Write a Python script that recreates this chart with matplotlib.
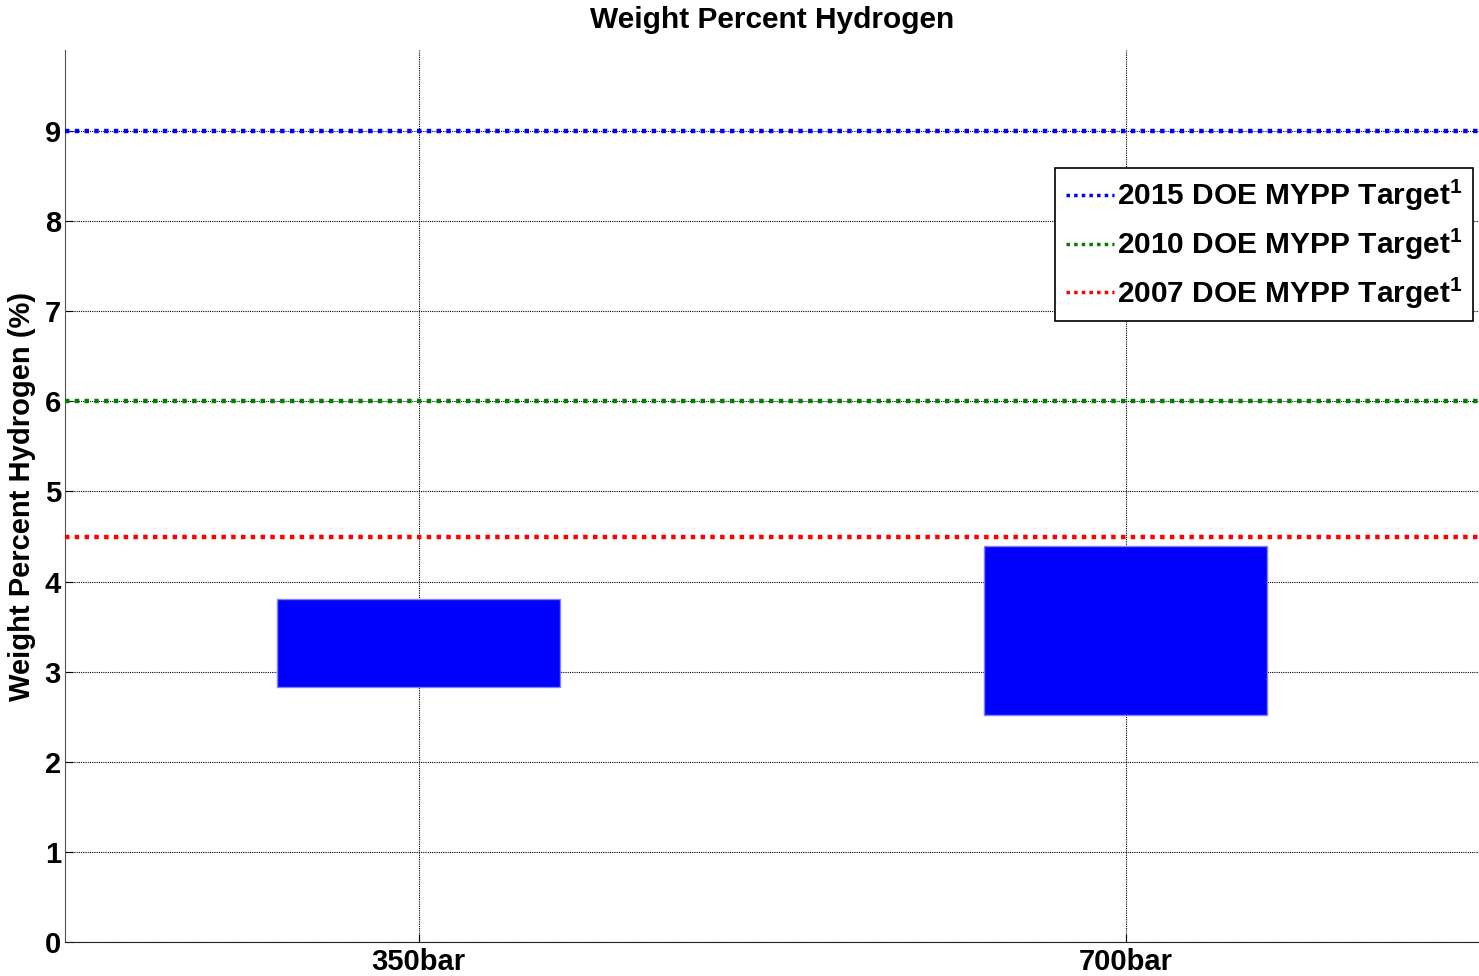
import numpy as np
import matplotlib
matplotlib.use('Agg')
import matplotlib.pyplot as plt

plt.rcParams['font.family'] = ['Liberation Sans', 'DejaVu Sans']
plt.rcParams['font.weight'] = 'bold'
plt.rcParams['mathtext.fontset'] = 'custom'
plt.rcParams['mathtext.rm'] = 'Liberation Sans:bold'
plt.rcParams['mathtext.bf'] = 'Liberation Sans:bold'
plt.rcParams['mathtext.default'] = 'bf'

# data
categories = ['350bar', '700bar']
wt_low = [2.83, 2.52]
wt_high = [3.81, 4.40]
target_labels = ['2015 DOE MYPP Target', '2010 DOE MYPP Target', '2007 DOE MYPP Target']
target_values = [9.0, 6.0, 4.5]
target_colors = ['#0000ff', '#008000', '#ff0000']

fig = plt.figure(figsize=(14.79, 9.76), dpi=100)
ax = fig.add_axes([65/1479, 34/976, 1414/1479, (942 - 50)/976])

x = np.arange(1, len(categories) + 1)
heights = np.array(wt_high) - np.array(wt_low)
ax.bar(x, heights, bottom=wt_low, width=0.4, color='#0000ff',
       edgecolor='#8080ff', linewidth=1, zorder=3)

for lab, val, col in zip(target_labels, target_values, target_colors):
    ax.axhline(val, color=col, linestyle=(0, (1, 1.2)), linewidth=3.2,
               label=lab + r'$^{1}$', zorder=4)

ax.set_xlim(0.5, 2.5)
ax.set_ylim(0, 9.9)
ax.set_xticks(x)
ax.set_xticklabels(categories)
ax.set_yticks(range(10))
ax.tick_params(direction='in', labelsize=21, length=6, pad=3)
ax.tick_params(axis='x', pad=4)
ax.grid(True, color='black', linestyle=(0, (1, 1)), linewidth=0.8, zorder=0)
ax.set_axisbelow(True)
for s in ['top', 'right']:
    ax.spines[s].set_visible(False)
ax.spines['left'].set_color('#555555')
ax.spines['bottom'].set_color('#222222')

ax.set_title('Weight Percent Hydrogen', fontsize=21.5, fontweight='bold', pad=16)
ax.set_ylabel('Weight Percent Hydrogen (%)', fontsize=21, fontweight='bold', labelpad=6)

leg = ax.legend(loc='upper right', bbox_to_anchor=(0.9955, 0.868), fontsize=21.5,
                handlelength=1.6, handletextpad=0.1, borderpad=0.35,
                labelspacing=0.45, fancybox=False, framealpha=1,
                edgecolor='black', borderaxespad=0)
leg.get_frame().set_linewidth(1.2)
for t in leg.get_texts():
    t.set_fontweight('bold')
for h in leg.get_lines():
    h.set_linewidth(2.5)

fig.savefig('out.png', dpi=100)
